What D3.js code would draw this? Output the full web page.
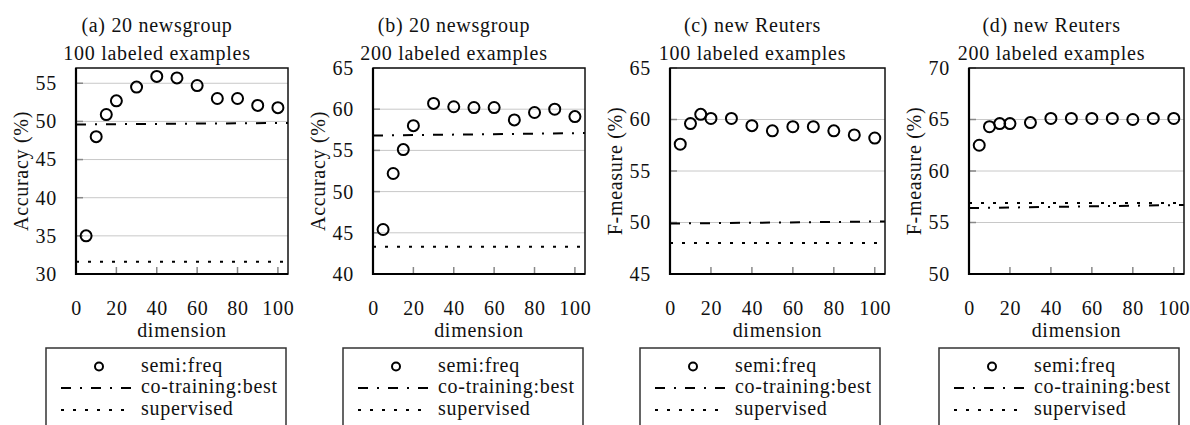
<!DOCTYPE html>
<html>
<head>
<meta charset="utf-8">
<script src="https://cdn.jsdelivr.net/npm/d3@7"></script>
<style>
  html, body { margin: 0; padding: 0; background: #fff; }
</style>
</head>
<body>
<svg id="chart" width="1190" height="425" font-family="'Liberation Serif', 'DejaVu Serif', serif"></svg>
<script>
// Dimensions evaluated for the semi-supervised method
const dims = [5, 10, 15, 20, 30, 40, 50, 60, 70, 80, 90, 100];

// semi:freq results per dimension
const semiNews100    = [35.0, 48.0, 50.9, 52.7, 54.5, 55.9, 55.7, 54.7, 53.0, 53.0, 52.1, 51.8];
const semiNews200    = [45.4, 52.2, 55.1, 58.0, 60.7, 60.3, 60.2, 60.2, 58.7, 59.6, 60.0, 59.1];
const semiReuters100 = [57.6, 59.6, 60.5, 60.1, 60.1, 59.4, 58.9, 59.3, 59.3, 58.9, 58.5, 58.2];
const semiReuters200 = [62.5, 64.3, 64.6, 64.6, 64.7, 65.1, 65.1, 65.1, 65.1, 65.0, 65.1, 65.1];

// Baselines, drawn across the whole dimension range
const baselineDims   = [0, 105];
const coNews100      = [49.6, 49.8];
const coNews200      = [56.8, 57.1];
const coReuters100   = [49.9, 50.1];
const coReuters200   = [56.4, 56.7];
const supNews100     = [31.6, 31.6];
const supNews200     = [43.3, 43.3];
const supReuters100  = [48.0, 48.0];
const supReuters200  = [56.9, 56.9];

// Axis labels and ticks
const titles     = ["(a) 20 newsgroup", "(b) 20 newsgroup", "(c) new Reuters", "(d) new Reuters"];
const subtitles  = ["100 labeled examples", "200 labeled examples", "100 labeled examples", "200 labeled examples"];
const yLabels    = ["Accuracy (%)", "Accuracy (%)", "F-measure (%)", "F-measure (%)"];
const yDomains   = [[30, 57], [40, 65], [45, 65], [50, 70]];
const yTicks     = [[30, 35, 40, 45, 50, 55], [40, 45, 50, 55, 60, 65], [45, 50, 55, 60, 65], [50, 55, 60, 65, 70]];
const xTicks     = [0, 20, 40, 60, 80, 100];
const xLabel     = "dimension";
const legendText = ["semi:freq", "co-training:best", "supervised"];

const panels = [
  { semi: semiNews100,    co: coNews100,    sup: supNews100 },
  { semi: semiNews200,    co: coNews200,    sup: supNews200 },
  { semi: semiReuters100, co: coReuters100, sup: supReuters100 },
  { semi: semiReuters200, co: coReuters200, sup: supReuters200 }
];

// Layout
const plotLefts  = [76, 373, 670, 969];
const plotWidths = [212, 212, 215, 215];
const plotTop = 68, plotBottom = 274;
const FONT = 20;
const SERIF = "Liberation Serif";
const CO_DASH = "10,9,2,9";
const SUP_DASH = "3,9";

const svg = d3.select("#chart");

function label(sel) {
  return sel.attr("font-family", SERIF).attr("font-size", FONT)
            .attr("letter-spacing", 0.7).attr("fill", "#111");
}

panels.forEach((p, i) => {
  const L = plotLefts[i], R = L + plotWidths[i];
  const cx = (L + R) / 2;
  const x = d3.scaleLinear().domain([0, 105]).range([L, R]);
  const y = d3.scaleLinear().domain(yDomains[i]).range([plotBottom, plotTop]);
  const g = svg.append("g");

  // titles
  g.append("text").attr("x", cx - 25).attr("y", 32).attr("text-anchor", "middle")
    .call(label).text(titles[i]);
  g.append("text").attr("x", cx - 25).attr("y", 60).attr("text-anchor", "middle")
    .call(label).text(subtitles[i]);

  // grid lines
  g.append("g").selectAll("line").data(yTicks[i]).join("line")
    .attr("x1", L).attr("x2", R).attr("y1", d => y(d)).attr("y2", d => y(d))
    .attr("stroke", "#c8c8c8").attr("stroke-width", 1);

  // y axis: labels outside, short ticks inside
  const yAxis = d3.axisLeft(y).tickValues(yTicks[i]).tickSize(0).tickPadding(19);
  const ya = g.append("g").attr("transform", `translate(${L},0)`).call(yAxis)
    .attr("font-family", SERIF).attr("font-size", FONT);
  ya.select(".domain").remove();
  ya.selectAll("text").call(label);
  g.append("g").selectAll("line").data(yTicks[i]).join("line")
    .attr("x1", L).attr("x2", L + 7).attr("y1", d => y(d)).attr("y2", d => y(d))
    .attr("stroke", "#888").attr("stroke-width", 1.5);

  // x axis: labels well below the frame, short ticks inside
  const xAxis = d3.axisBottom(x).tickValues(xTicks).tickSize(0).tickPadding(27);
  const xa = g.append("g").attr("transform", `translate(0,${plotBottom})`).call(xAxis)
    .attr("font-family", SERIF).attr("font-size", FONT);
  xa.select(".domain").remove();
  xa.selectAll("text").call(label);
  g.append("g").selectAll("line").data(xTicks.slice(1)).join("line")
    .attr("x1", d => x(d)).attr("x2", d => x(d)).attr("y1", plotBottom).attr("y2", plotBottom - 7)
    .attr("stroke", "#888").attr("stroke-width", 1.5);

  // axis titles
  g.append("text").attr("x", cx).attr("y", 337).attr("text-anchor", "middle")
    .call(label).text(xLabel);
  g.append("text").attr("transform", `translate(${L - 55},${(plotTop + plotBottom) / 2}) rotate(-90)`)
    .attr("text-anchor", "middle").attr("dominant-baseline", "central")
    .call(label).text(yLabels[i]);

  // baselines
  const line = d3.line().x(d => x(d[0])).y(d => y(d[1]));
  g.append("path").datum(d3.zip(baselineDims, p.sup)).attr("d", line)
    .attr("fill", "none").attr("stroke", "#000").attr("stroke-width", 2).attr("stroke-dasharray", SUP_DASH);
  g.append("path").datum(d3.zip(baselineDims, p.co)).attr("d", line)
    .attr("fill", "none").attr("stroke", "#000").attr("stroke-width", 2).attr("stroke-dasharray", CO_DASH);

  // semi:freq points
  g.append("g").selectAll("circle").data(d3.zip(dims, p.semi)).join("circle")
    .attr("cx", d => x(d[0])).attr("cy", d => y(d[1])).attr("r", 5.5)
    .attr("fill", "none").attr("stroke", "#000").attr("stroke-width", 2);

  // frame
  g.append("rect").attr("x", L).attr("y", plotTop).attr("width", R - L).attr("height", plotBottom - plotTop)
    .attr("fill", "none").attr("stroke", "#111").attr("stroke-width", 1.5);
  g.append("path").attr("d", `M${L},${plotTop}V${plotBottom}H${R}`)
    .attr("fill", "none").attr("stroke", "#000").attr("stroke-width", 2.2);

  // legend
  const lx = L - 30, ly = 348;
  const lg = g.append("g");
  lg.append("rect").attr("x", lx).attr("y", ly).attr("width", 240).attr("height", 100)
    .attr("fill", "#fff").attr("stroke", "#333").attr("stroke-width", 1.5);
  const rowsY = [366.5, 388, 410];
  lg.append("circle").attr("cx", lx + 53).attr("cy", rowsY[0]).attr("r", 4)
    .attr("fill", "none").attr("stroke", "#000").attr("stroke-width", 2);
  lg.append("line").attr("x1", lx + 15).attr("x2", lx + 85).attr("y1", rowsY[1]).attr("y2", rowsY[1])
    .attr("stroke", "#000").attr("stroke-width", 2).attr("stroke-dasharray", CO_DASH);
  lg.append("line").attr("x1", lx + 15).attr("x2", lx + 85).attr("y1", rowsY[2]).attr("y2", rowsY[2])
    .attr("stroke", "#000").attr("stroke-width", 2).attr("stroke-dasharray", SUP_DASH);
  lg.selectAll("text.leg").data(legendText).join("text").attr("class", "leg")
    .attr("x", lx + 95).attr("y", (d, k) => rowsY[k] + 5)
    .call(label).text(d => d);
});
</script>
</body>
</html>
